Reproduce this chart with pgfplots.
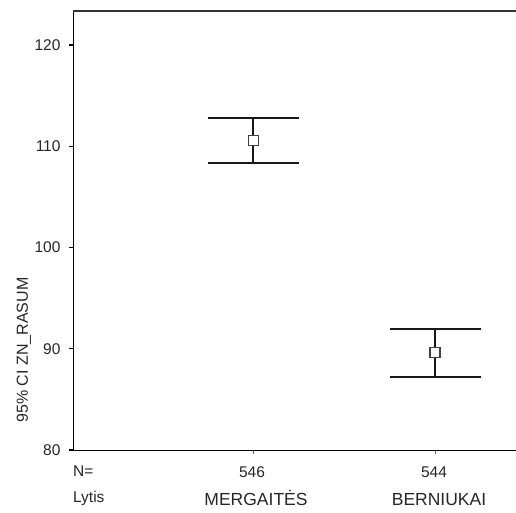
\documentclass[border=0pt]{standalone}
\usepackage{fontspec}
\setmainfont{Liberation Sans}
\usepackage{pgfplots}
\pgfplotsset{compat=1.18}
\begin{document}
\begin{tikzpicture}
\begin{axis}[name=ax, at={(0,0)}, anchor=south west, scale only axis,
  width=443pt, height=439pt,
  xmin=0.01, xmax=2.445, ymin=80, ymax=123.36,
  axis x line*=bottom, axis y line*=left,
  xtick={1,2}, xticklabels={}, ytick={80,90,...,120},
  tick align=outside, major tick length=4pt,
  y tick style={line width=1.3pt, black},
  x tick style={line width=0.6pt, black!60},
  ticklabel style={font=\fontsize{15.5}{17}\selectfont, text=black!85},
  yticklabel style={xshift=-5pt},
  /pgf/number format/assume math mode=true,
  axis line style={line width=0.9pt, black},
  clip=false]
\draw[line width=1.2pt, black!80] (rel axis cs:0,1) -- (rel axis cs:1,1);
\addplot[black, line width=1.5pt, mark=square*,
  mark options={fill=white, draw=black!75, line width=1.1pt, mark size=5pt},
  only marks,
  error bars/.cd, y dir=both, y explicit,
  error bar style={line width=1.5pt, black!90},
  error mark options={rotate=90, mark size=45.5pt, line width=2pt, black!90}]
coordinates {(1,110.56) +- (0,2.25) (2,89.6) +- (0,2.4)};
\end{axis}
\begin{scope}[every node/.style={inner sep=0pt, text=black!85}]
\node[rotate=90, anchor=center, font=\fontsize{16}{18}\selectfont] at (-49pt,100pt) {95\% CI ZN\_RASUM};
\node[anchor=base west, font=\fontsize{15.5}{17}\selectfont] at (0pt,-26pt) {N=};
\node[anchor=base, font=\fontsize{15.5}{17}\selectfont] at (179pt,-27pt) {546};
\node[anchor=base, font=\fontsize{15.5}{17}\selectfont] at (361pt,-27pt) {544};
\node[anchor=base west, font=\fontsize{15.5}{17}\selectfont] at (0pt,-52pt) {Lytis};
\node[anchor=base, font=\fontsize{17.5}{19}\selectfont] at (183pt,-55pt) {MERGAITĖS};
\node[anchor=base, font=\fontsize{17.5}{19}\selectfont] at (366pt,-55pt) {BERNIUKAI};
\end{scope}
\pgfresetboundingbox
\useasboundingbox (-73pt,-62pt) rectangle (443pt,450pt);
\end{tikzpicture}
\end{document}
